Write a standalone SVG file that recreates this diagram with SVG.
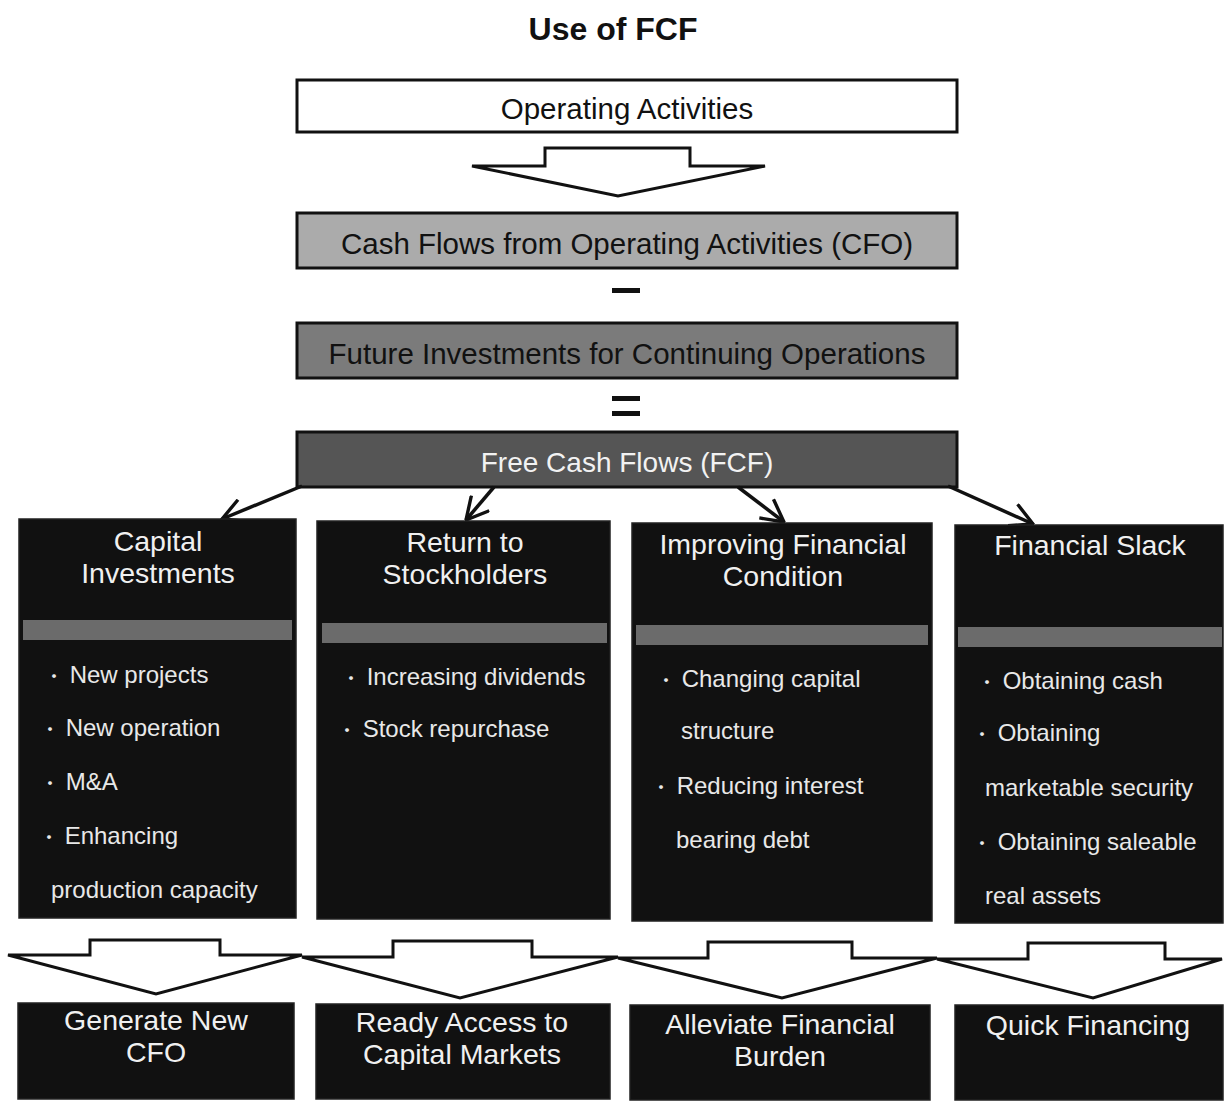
<svg xmlns="http://www.w3.org/2000/svg" width="1225" height="1101" viewBox="0 0 1225 1101">
<defs>
<marker id="vhead" viewBox="0 0 20 20" refX="19" refY="10" markerWidth="26" markerHeight="26" markerUnits="userSpaceOnUse" orient="auto">
<path d="M2,1 L19,10 L2,19" fill="none" stroke="#111" stroke-width="2.6"/>
</marker>
<style>
text{font-family:"Liberation Sans",Arial,sans-serif;}
.title{font-size:32px;font-weight:bold;fill:#111;text-anchor:middle;}
.bar{stroke:#111;stroke-width:3;}
.bartxt{font-size:29.5px;text-anchor:middle;}
.col{fill:#111;stroke:#222;stroke-width:1.5;}
.sep{fill:#6b6b6b;}
.hd{font-size:28.5px;fill:#f0f0f0;text-anchor:middle;}
.it{font-size:24px;fill:#e8e8e8;}
.b{font-family:"Noto Sans CJK JP","Noto Sans CJK SC",sans-serif;font-size:18px;}
.blk{fill:#fff;stroke:#111;stroke-width:3;stroke-linejoin:miter;}
.conn{stroke:#111;stroke-width:3.5;fill:none;}
</style>
</defs>
<rect width="1225" height="1101" fill="#fff"/>
<text class="title" x="613" y="40">Use of FCF</text>

<g id="operating">
<rect class="bar" x="297" y="80" width="660" height="52" fill="#fff"/>
<text class="bartxt" x="627" y="119" fill="#111">Operating Activities</text>
</g>
<g id="arrow-top">
<path class="blk" d="M545,148 L690,148 L690,166 L765,166 L618,196 L472,166 L545,166 Z"/>
</g>
<g id="cfo">
<rect class="bar" x="297" y="213" width="660" height="55" fill="#ababab"/>
<text class="bartxt" x="627" y="254" fill="#111">Cash Flows from Operating Activities (CFO)</text>
</g>
<g id="minus"><rect x="612" y="288" width="28" height="5" fill="#111"/></g>
<g id="future">
<rect class="bar" x="297" y="323" width="660" height="55" fill="#7b7b7b"/>
<text class="bartxt" x="627" y="364" fill="#111">Future Investments for Continuing Operations</text>
</g>
<g id="equals"><rect x="612" y="396" width="28" height="5" fill="#111"/><rect x="612" y="411" width="28" height="5" fill="#111"/></g>
<g id="fcf">
<rect class="bar" x="297" y="432" width="660" height="55" fill="#555"/>
<text class="bartxt" x="627" y="472" fill="#f2f2f2" style="font-size:28px">Free Cash Flows (FCF)</text>
</g>

<g id="connectors">
<line class="conn" x1="302" y1="486" x2="222" y2="519" marker-end="url(#vhead)"/>
<line class="conn" x1="494" y1="487" x2="466" y2="520" marker-end="url(#vhead)"/>
<line class="conn" x1="738" y1="487" x2="784" y2="522" marker-end="url(#vhead)"/>
<line class="conn" x1="948" y1="486" x2="1033" y2="524" marker-end="url(#vhead)"/>
</g>

<g id="capital">
<rect class="col" x="19" y="519" width="277" height="399"/>
<rect class="sep" x="23" y="620" width="269" height="20"/>
<text class="hd" x="158" y="551">Capital</text>
<text class="hd" x="158" y="583">Investments</text>
<text class="it" x="45" y="683"><tspan class="b">・</tspan> New projects</text>
<text class="it" x="41" y="736"><tspan class="b">・</tspan> New operation</text>
<text class="it" x="41" y="790"><tspan class="b">・</tspan> M&amp;A</text>
<text class="it" x="40" y="844"><tspan class="b">・</tspan> Enhancing</text>
<text class="it" x="51" y="898">production capacity</text>
</g>
<g id="return">
<rect class="col" x="317" y="521" width="293" height="398"/>
<rect class="sep" x="322" y="623" width="285" height="20"/>
<text class="hd" x="465" y="552">Return to</text>
<text class="hd" x="465" y="584">Stockholders</text>
<text class="it" x="342" y="685"><tspan class="b">・</tspan> Increasing dividends</text>
<text class="it" x="338" y="737"><tspan class="b">・</tspan> Stock repurchase</text>
</g>
<g id="improving">
<rect class="col" x="632" y="523" width="300" height="398"/>
<rect class="sep" x="636" y="625" width="292" height="20"/>
<text class="hd" x="783" y="554">Improving Financial</text>
<text class="hd" x="783" y="586">Condition</text>
<text class="it" x="657" y="687"><tspan class="b">・</tspan> Changing capital</text>
<text class="it" x="681" y="739">structure</text>
<text class="it" x="652" y="794"><tspan class="b">・</tspan> Reducing interest</text>
<text class="it" x="676" y="848">bearing debt</text>
</g>
<g id="slack">
<rect class="col" x="955" y="525" width="268" height="398"/>
<rect class="sep" x="958" y="627" width="264" height="20"/>
<text class="hd" x="1090" y="555">Financial Slack</text>
<text class="it" x="978" y="689"><tspan class="b">・</tspan> Obtaining cash</text>
<text class="it" x="973" y="741"><tspan class="b">・</tspan> Obtaining</text>
<text class="it" x="985" y="796">marketable security</text>
<text class="it" x="973" y="850"><tspan class="b">・</tspan> Obtaining saleable</text>
<text class="it" x="985" y="904">real assets</text>
</g>

<g id="arrows-bottom">
<path class="blk" d="M90,940 L220,940 L220,955 L302,955 L156,994 L8,955 L90,955 Z"/>
<path class="blk" d="M393,941 L532,941 L532,957 L618,957 L460,998 L302,957 L393,957 Z"/>
<path class="blk" d="M708,942 L852,942 L852,958 L937,958 L782,998 L618,958 L708,958 Z"/>
<path class="blk" d="M1028,943 L1165,943 L1165,959 L1222,959 L1093,998 L937,959 L1028,959 Z"/>
</g>

<g id="generate">
<rect class="col" x="18" y="1003" width="276" height="96"/>
<text class="hd" x="156" y="1030">Generate New</text>
<text class="hd" x="156" y="1062">CFO</text>
</g>
<g id="ready">
<rect class="col" x="316" y="1004" width="294" height="95"/>
<text class="hd" x="462" y="1032">Ready Access to</text>
<text class="hd" x="462" y="1064">Capital Markets</text>
</g>
<g id="alleviate">
<rect class="col" x="630" y="1005" width="300" height="95"/>
<text class="hd" x="780" y="1034">Alleviate Financial</text>
<text class="hd" x="780" y="1066">Burden</text>
</g>
<g id="quick">
<rect class="col" x="955" y="1005" width="268" height="95"/>
<text class="hd" x="1088" y="1035">Quick Financing</text>
</g>
</svg>
